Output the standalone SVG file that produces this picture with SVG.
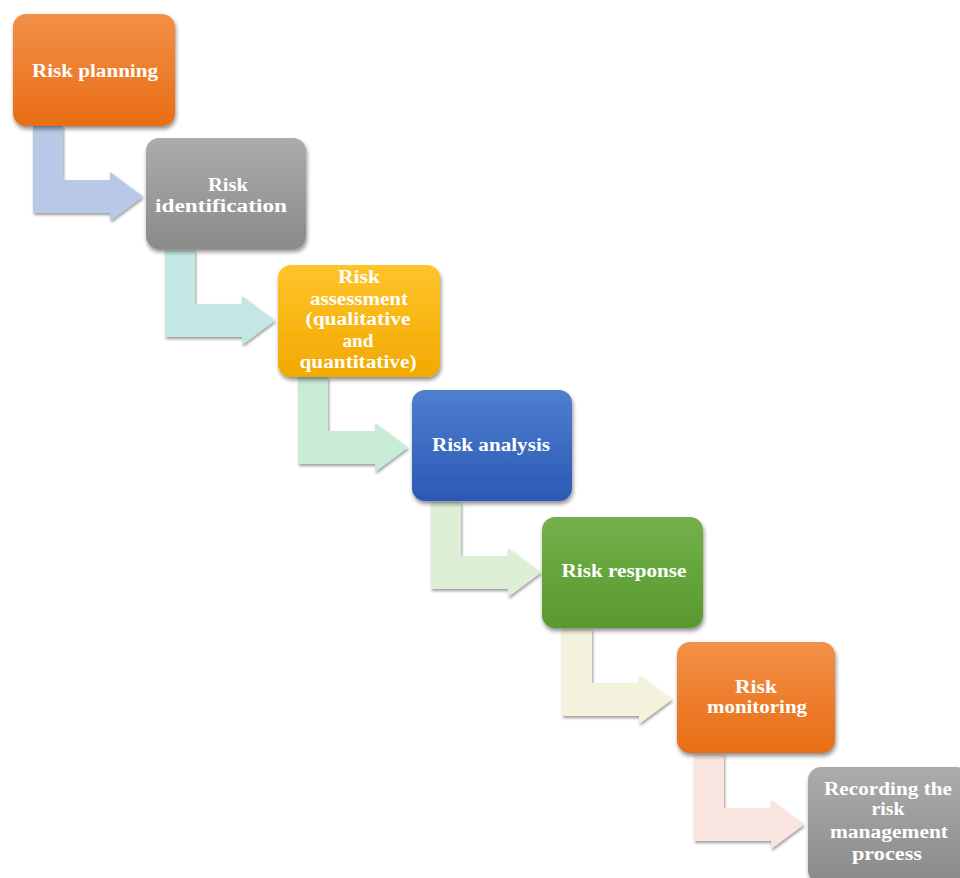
<svg xmlns="http://www.w3.org/2000/svg" width="960" height="878" viewBox="0 0 960 878">
<defs>
<style>
.t{font-family:"Liberation Serif","Times New Roman",serif;font-weight:bold;font-size:18px;fill:#ffffff;text-anchor:middle}
.node rect{filter:url(#sh)}
.arr{filter:url(#ash)}
</style>
<filter id="sh" x="-10%" y="-10%" width="125%" height="130%">
<feGaussianBlur in="SourceAlpha" stdDeviation="2"/>
<feOffset dx="1" dy="3" result="b"/>
<feComponentTransfer><feFuncA type="linear" slope="0.45"/></feComponentTransfer>
<feMerge><feMergeNode/><feMergeNode in="SourceGraphic"/></feMerge>
</filter>
<filter id="ash" x="-10%" y="-10%" width="125%" height="130%">
<feGaussianBlur in="SourceAlpha" stdDeviation="1.5"/>
<feOffset dx="1" dy="2" result="b"/>
<feComponentTransfer><feFuncA type="linear" slope="0.4"/></feComponentTransfer>
<feMerge><feMergeNode/><feMergeNode in="SourceGraphic"/></feMerge>
</filter>
<linearGradient id="gOr" x1="0" y1="0" x2="0" y2="1"><stop offset="0" stop-color="#f39048"/><stop offset="1" stop-color="#e86d14"/></linearGradient>
<linearGradient id="gGr" x1="0" y1="0" x2="0" y2="1"><stop offset="0" stop-color="#acacac"/><stop offset="1" stop-color="#8a8a8a"/></linearGradient>
<linearGradient id="gYe" x1="0" y1="0" x2="0" y2="1"><stop offset="0" stop-color="#ffc42a"/><stop offset="1" stop-color="#f2a900"/></linearGradient>
<linearGradient id="gBl" x1="0" y1="0" x2="0" y2="1"><stop offset="0" stop-color="#4f7fd0"/><stop offset="1" stop-color="#2c58b4"/></linearGradient>
<linearGradient id="gGn" x1="0" y1="0" x2="0" y2="1"><stop offset="0" stop-color="#74b14b"/><stop offset="1" stop-color="#58992e"/></linearGradient>
<path id="bent" d="M0,0 H30 V54 H77 V46 L110,70.5 L77,95 V87 H0 Z"/>
</defs>

<g id="connectors">
<use href="#bent" class="arr" transform="translate(33,126)" fill="#b7c9e6"/>
<use href="#bent" class="arr" transform="translate(165,250)" fill="#c3e8e3"/>
<use href="#bent" class="arr" transform="translate(298,377)" fill="#c8ecd5"/>
<use href="#bent" class="arr" transform="translate(431,502)" fill="#ddf0d6"/>
<use href="#bent" class="arr" transform="translate(562,629)" fill="#f4f1dc"/>
<use href="#bent" class="arr" transform="translate(694,754)" fill="#f9e4df"/>
</g>

<g id="n1" class="node"><rect x="13" y="14" width="162" height="112" rx="13" fill="url(#gOr)"/><text class="t" x="95" y="77" textLength="126" lengthAdjust="spacingAndGlyphs">Risk planning</text></g>
<g id="n2" class="node"><rect x="146" y="138" width="160" height="111" rx="13" fill="url(#gGr)"/><text class="t" x="228" y="191" textLength="40" lengthAdjust="spacingAndGlyphs">Risk</text><text class="t" x="221" y="212" textLength="132" lengthAdjust="spacingAndGlyphs">identification</text></g>
<g id="n3" class="node"><rect x="278" y="265" width="162" height="112" rx="13" fill="url(#gYe)"/><text class="t" x="359" y="283" textLength="42" lengthAdjust="spacingAndGlyphs">Risk</text><text class="t" x="359" y="305" textLength="98" lengthAdjust="spacingAndGlyphs">assessment</text><text class="t" x="358" y="325" textLength="105" lengthAdjust="spacingAndGlyphs">(qualitative</text><text class="t" x="358" y="347" textLength="31" lengthAdjust="spacingAndGlyphs">and</text><text class="t" x="358" y="368" textLength="117" lengthAdjust="spacingAndGlyphs">quantitative)</text></g>
<g id="n4" class="node"><rect x="412" y="390" width="160" height="111" rx="13" fill="url(#gBl)"/><text class="t" x="491" y="451" textLength="118" lengthAdjust="spacingAndGlyphs">Risk analysis</text></g>
<g id="n5" class="node"><rect x="542" y="517" width="161" height="111" rx="13" fill="url(#gGn)"/><text class="t" x="624" y="577" textLength="125" lengthAdjust="spacingAndGlyphs">Risk response</text></g>
<g id="n6" class="node"><rect x="677" y="642" width="158" height="111" rx="13" fill="url(#gOr)"/><text class="t" x="756" y="693" textLength="42" lengthAdjust="spacingAndGlyphs">Risk</text><text class="t" x="757" y="713" textLength="100" lengthAdjust="spacingAndGlyphs">monitoring</text></g>
<g id="n7" class="node"><rect x="808" y="767" width="162" height="116" rx="13" fill="url(#gGr)"/><text class="t" x="888" y="795" textLength="128" lengthAdjust="spacingAndGlyphs">Recording the</text><text class="t" x="888" y="815" textLength="33" lengthAdjust="spacingAndGlyphs">risk</text><text class="t" x="889" y="838" textLength="118" lengthAdjust="spacingAndGlyphs">management</text><text class="t" x="887" y="860" textLength="70" lengthAdjust="spacingAndGlyphs">process</text></g>
</svg>
